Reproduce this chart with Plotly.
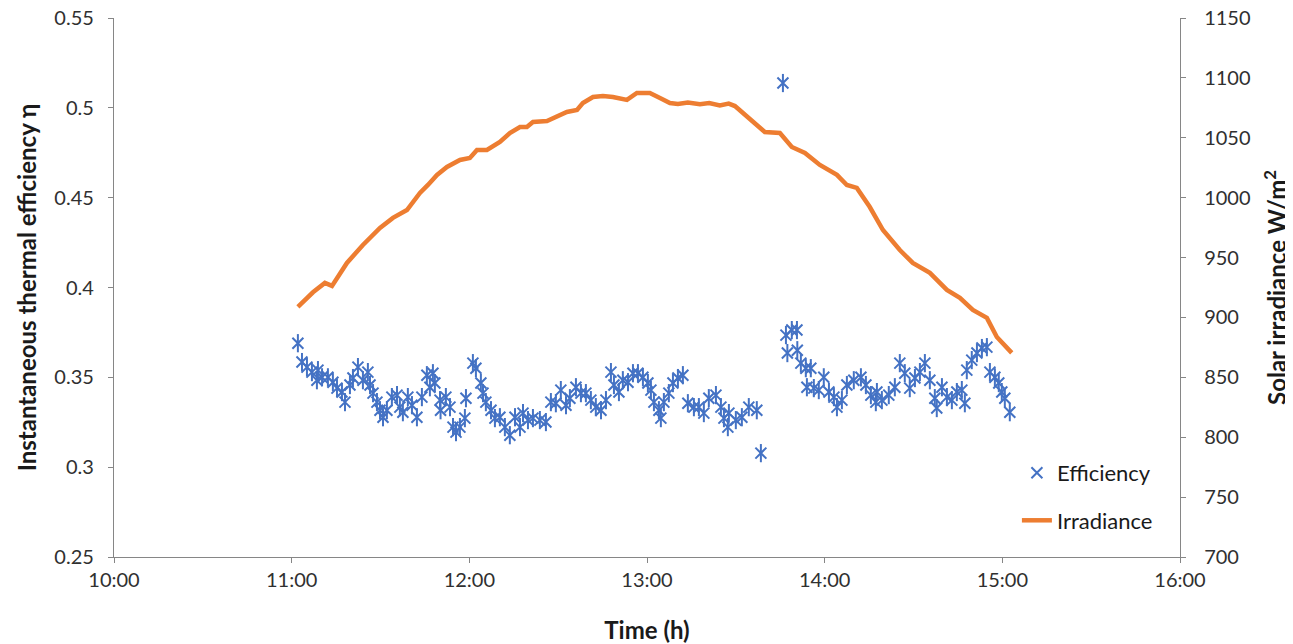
import plotly.graph_objects as go

# Efficiency scatter (time in decimal hours, efficiency)
eff_time = [11.035, 11.058, 11.086, 11.114, 11.142, 11.148, 11.171, 11.204, 11.232, 11.255,
            11.283, 11.300, 11.328, 11.345, 11.373, 11.401, 11.429, 11.441, 11.458, 11.480,
            11.497, 11.514, 11.536, 11.564, 11.593, 11.609, 11.626, 11.654, 11.677, 11.705,
            11.733, 11.761, 11.778, 11.795, 11.806, 11.835, 11.838, 11.868, 11.891, 11.908,
            11.925, 11.947, 11.975, 11.981, 12.020, 12.037, 12.065, 12.077, 12.093, 12.122,
            12.144, 12.172, 12.200, 12.228, 12.257, 12.285, 12.302, 12.330, 12.358, 12.397,
            12.431, 12.459, 12.487, 12.515, 12.544, 12.566, 12.600, 12.628, 12.656, 12.684,
            12.712, 12.741, 12.769, 12.797, 12.814, 12.842, 12.864, 12.893, 12.921, 12.949,
            12.977, 13.005, 13.022, 13.039, 13.067, 13.078, 13.095, 13.123, 13.146, 13.174,
            13.202, 13.230, 13.264, 13.292, 13.320, 13.348, 13.388, 13.416, 13.433, 13.455,
            13.461, 13.500, 13.534, 13.573, 13.618, 13.641, 13.765, 13.782, 13.790, 13.815,
            13.844, 13.846, 13.866, 13.894, 13.900, 13.922, 13.939, 13.967, 13.995, 14.024,
            14.052, 14.069, 14.097, 14.125, 14.164, 14.204, 14.232, 14.260, 14.288, 14.294,
            14.322, 14.361, 14.395, 14.423, 14.451, 14.479, 14.508, 14.536, 14.564, 14.592,
            14.620, 14.631, 14.660, 14.688, 14.716, 14.744, 14.772, 14.789, 14.800, 14.828,
            14.857, 14.885, 14.913, 14.930, 14.958, 14.980, 14.997, 15.014, 15.042]
eff_value = [0.369, 0.3585, 0.3557, 0.3529, 0.3484, 0.354, 0.350, 0.350, 0.3473, 0.344,
             0.3418, 0.3362, 0.3457, 0.3496, 0.3557, 0.3484, 0.3529, 0.3457, 0.3412, 0.3362,
             0.3317, 0.3278, 0.3317, 0.339, 0.3401, 0.3334, 0.3306, 0.339, 0.3345, 0.3278,
             0.339, 0.3512, 0.3445, 0.3523, 0.3468, 0.3373, 0.3317, 0.339, 0.3334, 0.3223,
             0.3195, 0.3223, 0.3273, 0.3384, 0.3579, 0.3551, 0.3468, 0.3412, 0.3362, 0.3317,
             0.3273, 0.3278, 0.3223, 0.3178, 0.3278, 0.3223, 0.3301, 0.3262, 0.3273, 0.3262,
             0.3251, 0.3362, 0.3356, 0.3429, 0.3345, 0.3384, 0.3445, 0.3412, 0.3412, 0.3373,
             0.3334, 0.3317, 0.3373, 0.3529, 0.3457, 0.3418, 0.3484, 0.3473, 0.3523, 0.3523,
             0.350, 0.3468, 0.3429, 0.3362, 0.3317, 0.3273, 0.3362, 0.3412, 0.3468, 0.3496,
             0.3512, 0.3356, 0.3334, 0.3334, 0.3301, 0.3384, 0.3401, 0.3334, 0.3273, 0.3223,
             0.3301, 0.3262, 0.3278, 0.3334, 0.3317, 0.3078, 0.5138, 0.3735, 0.3635, 0.3763,
             0.3763, 0.3651, 0.3579, 0.3551, 0.3445, 0.3551, 0.344, 0.3429, 0.350, 0.3418,
             0.339, 0.3334, 0.3373, 0.3457, 0.3484, 0.350, 0.3457, 0.3401, 0.3362, 0.3418,
             0.3373, 0.3401, 0.3445, 0.3579, 0.3523, 0.344, 0.3496, 0.3529, 0.3579, 0.3484,
             0.3384, 0.3329, 0.3445, 0.339, 0.3373, 0.3418, 0.3429, 0.3356, 0.354, 0.3596,
             0.3635, 0.3663, 0.3668, 0.3529, 0.350, 0.3468, 0.3418, 0.3384, 0.3306]

# Irradiance line (time in decimal hours, W/m2)
irr_time = [11.035, 11.120, 11.187, 11.227, 11.311, 11.401, 11.497, 11.570, 11.649, 11.722,
            11.767, 11.818, 11.874, 11.947, 12.003, 12.043, 12.099, 12.172, 12.228, 12.285,
            12.324, 12.358, 12.437, 12.493, 12.549, 12.606, 12.639, 12.696, 12.752, 12.808,
            12.887, 12.943, 13.016, 13.073, 13.129, 13.174, 13.230, 13.298, 13.350, 13.410,
            13.460, 13.495, 13.540, 13.596, 13.663, 13.748, 13.815, 13.889, 13.928, 13.973,
            14.069, 14.125, 14.181, 14.254, 14.328, 14.423, 14.496, 14.592, 14.688, 14.761,
            14.834, 14.913, 14.969, 15.025, 15.053]
irr_value = [908.8, 921.0, 928.8, 926.3, 945.5, 960.5, 974.7, 983.1, 989.7, 1004.0,
             1010.6, 1019.0, 1025.6, 1031.5, 1033.1, 1039.8, 1039.8, 1046.5, 1054.0, 1059.0,
             1059.0, 1063.2, 1064.0, 1068.2, 1071.5, 1073.2, 1079.0, 1084.0, 1084.9, 1084.0,
             1081.6, 1087.4, 1087.4, 1083.2, 1079.0, 1078.2, 1079.5, 1078.0, 1079.0, 1077.0,
             1078.5, 1076.5, 1070.7, 1063.2, 1054.8, 1054.0, 1042.3, 1037.3, 1033.1, 1027.3,
             1019.0, 1010.6, 1008.1, 992.2, 973.0, 956.3, 945.5, 937.2, 923.0, 916.3,
             906.3, 899.6, 883.7, 874.5, 870.4]

x_ticks = [10, 11, 12, 13, 14, 15, 16]
x_labels = ["10:00", "11:00", "12:00", "13:00", "14:00", "15:00", "16:00"]
y1_ticks = [0.25, 0.3, 0.35, 0.4, 0.45, 0.5, 0.55]
y1_labels = ["0.25", "0.3", "0.35", "0.4", "0.45", "0.5", "0.55"]
y2_ticks = [700, 750, 800, 850, 900, 950, 1000, 1050, 1100, 1150]

BLUE = "#4472C4"
ORANGE = "#ED7D31"
GRAY = "#868686"
FONT = "Lato, 'Open Sans', sans-serif"

fig = go.Figure()
fig.add_trace(go.Scatter(
    x=eff_time, y=eff_value, mode="markers", name="Efficiency",
    legendgroup="eff",
    marker=dict(symbol="x-thin-open", size=11, color=BLUE, line=dict(width=2, color=BLUE)),
))
fig.add_trace(go.Scatter(
    x=eff_time, y=eff_value, mode="markers", name="Efficiency", showlegend=False,
    legendgroup="eff", hoverinfo="skip",
    marker=dict(symbol="line-ns-open", size=13, color=BLUE, line=dict(width=2, color=BLUE)),
))
fig.add_trace(go.Scatter(
    x=irr_time, y=irr_value, mode="lines", name="Irradiance", yaxis="y2",
    legendgroup="irr",
    line=dict(color=ORANGE, width=4.5, shape="linear"),
))

axis_common = dict(
    showline=True, linecolor=GRAY, linewidth=1.3, showgrid=False, zeroline=False,
    ticks="outside", ticklen=5, tickcolor=GRAY, tickwidth=1.3, automargin=False,
    ticklabeloverflow="allow",
    tickfont=dict(family=FONT, size=20, color="#303030"),
)
title_font = dict(family=FONT, size=24, color="#1a1a1a")

fig.update_layout(
    width=1293, height=644,
    margin=dict(l=106, r=121, t=10, b=95),
    plot_bgcolor="white", paper_bgcolor="white",
    font=dict(family=FONT, color="#303030"),
    xaxis=dict(range=[10, 16], tickvals=x_ticks, ticktext=x_labels,
               title=dict(text="<b>Time (h)</b>", font=title_font, standoff=32),
               **axis_common),
    yaxis=dict(range=[0.25, 0.55], tickvals=y1_ticks, ticktext=y1_labels,
               ticklabelstandoff=10,
               title=dict(text="<b>Instantaneous thermal efficiency η</b>", font=title_font, standoff=10),
               **axis_common),
    yaxis2=dict(range=[700, 1150], tickvals=y2_ticks, overlaying="y", side="right",
                ticklabelstandoff=14,
                title=dict(text="<b>Solar irradiance W/m<sup>2</sup></b>", font=title_font, standoff=19),
                **axis_common),
    legend=dict(x=0.847, y=0.195, xanchor="left", yanchor="top",
                bgcolor="rgba(0,0,0,0)", traceorder="grouped", tracegroupgap=16,
                font=dict(family=FONT, size=22, color="#1a1a1a")),
    showlegend=True,
)

fig.write_html("out.html")
